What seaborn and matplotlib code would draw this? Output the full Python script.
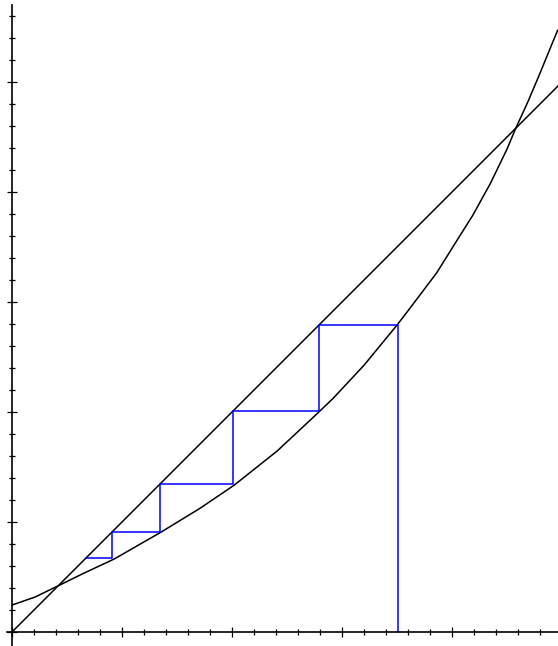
# Cobweb diagram: iterating x -> f(x) towards the lower fixed point
import numpy as np
import pandas as pd
import matplotlib
matplotlib.use("Agg")
import matplotlib.pyplot as plt
from matplotlib.ticker import MultipleLocator
import seaborn as sns

sns.set_theme(style="white")

# curve f(x), values
curve_x = [0.0, 0.21, 0.44, 0.65, 0.93, 1.35, 1.71, 2.02, 2.41, 2.79, 2.92,
           3.20, 3.50, 3.60, 3.86, 4.02, 4.19, 4.35, 4.50, 4.58, 4.69, 4.80, 4.96]
curve_y = [0.245, 0.318, 0.43, 0.533, 0.664, 0.905, 1.125, 1.335, 1.645, 2.0, 2.125,
           2.425, 2.79, 2.92, 3.264, 3.52, 3.79, 4.08, 4.39, 4.58, 4.82, 5.08, 5.47]

# identity line y = x
diag_x = [0.0, 5.0]
diag_y = [0.0, 5.0]

# iterates x0, x1 = f(x0), ...
iterates = [3.51, 2.79, 2.01, 1.345, 0.91, 0.67]

# build the staircase path from the iterates
web_x, web_y = [iterates[0]], [0.0]
for a, b in zip(iterates[:-1], iterates[1:]):
    web_x += [a, b]
    web_y += [b, b]
web = pd.DataFrame({"x": web_x, "y": web_y, "step": range(len(web_x))})

fig = plt.figure(figsize=(5.58, 6.46), dpi=100)
ax = fig.add_axes([0, 0, 1, 1])

sns.lineplot(x=curve_x, y=curve_y, color="black", lw=1.1, ax=ax)
sns.lineplot(x=diag_x, y=diag_y, color="black", lw=1.1, ax=ax)
sns.lineplot(data=web, x="x", y="y", sort=False, estimator=None,
             color="#0000ff", lw=1.1, ax=ax)

ax.set_xlim(-12 / 110, 546 / 110)
ax.set_ylim(-14 / 110, 632 / 110)

for s in ["top", "right"]:
    ax.spines[s].set_visible(False)
for s in ["left", "bottom"]:
    ax.spines[s].set_position(("data", 0))
    ax.spines[s].set_color("black")
    ax.spines[s].set_linewidth(1.2)
ax.spines["left"].set_bounds(-14 / 110, 5.70)
ax.spines["bottom"].set_bounds(-0.045, 546 / 110)

ax.xaxis.set_major_locator(MultipleLocator(1))
ax.xaxis.set_minor_locator(MultipleLocator(0.2))
ax.yaxis.set_major_locator(MultipleLocator(1))
ax.yaxis.set_minor_locator(MultipleLocator(0.2))
ax.tick_params(which="major", direction="inout", length=7.2, width=0.9,
               color="black", labelbottom=False, labelleft=False,
               bottom=True, left=True)
ax.tick_params(which="minor", direction="inout", length=4.3, width=0.9,
               color="black", bottom=True, left=True)
ax.set_xlabel("")
ax.set_ylabel("")
ax.grid(False)

plt.savefig("out.png", dpi=100)
plt.close()
